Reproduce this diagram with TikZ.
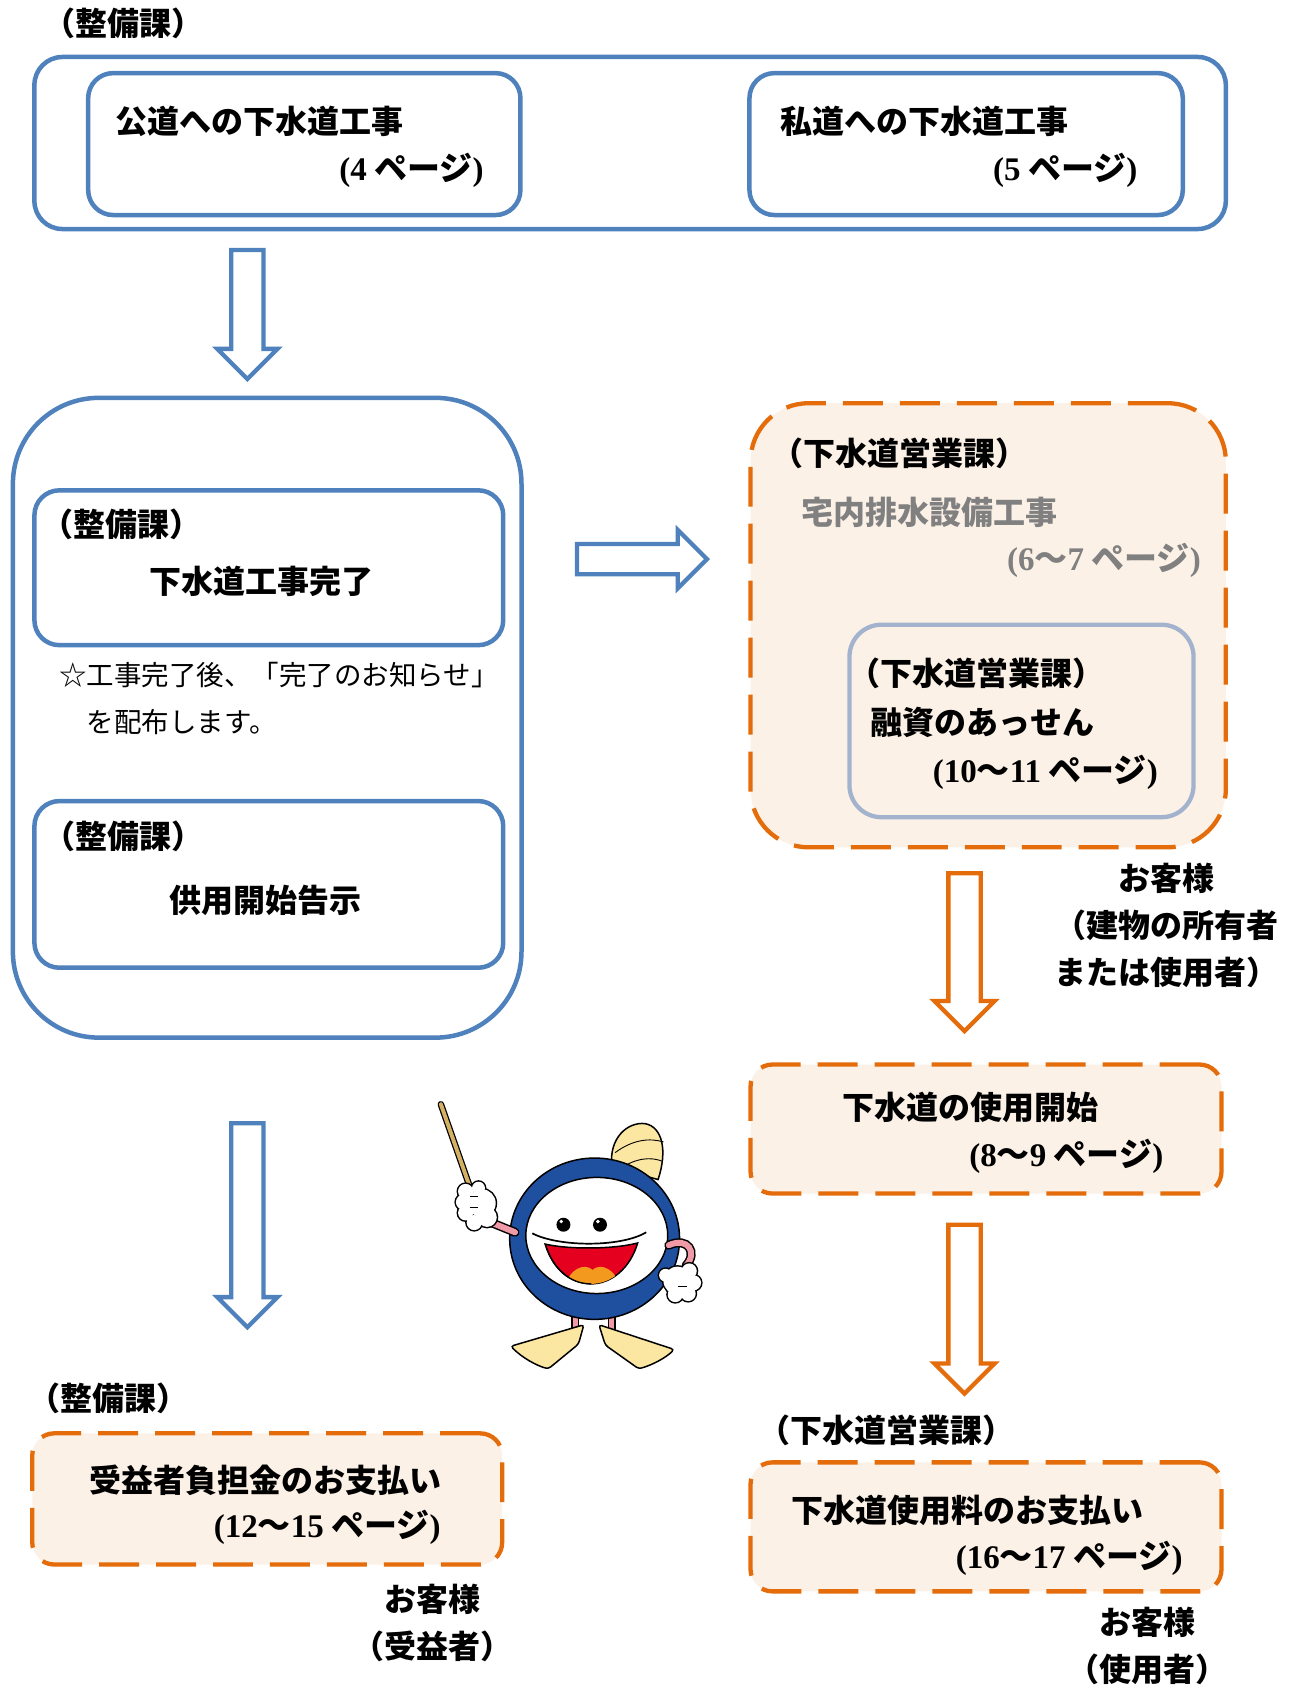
\documentclass[tikz,border=0pt]{standalone}
\usepackage{fontspec}
\setmainfont{Noto Sans CJK JP}
\newfontfamily\numfont{Liberation Serif}
\usetikzlibrary{shapes.arrows,fit}

\definecolor{boxblue}{HTML}{4F81BD}
\definecolor{boxorange}{HTML}{E46C0A}
\definecolor{peach}{HTML}{FCF1E7}
\definecolor{loanframe}{HTML}{A3B3CE}
\definecolor{ringblue}{HTML}{1F50A0}
\definecolor{mouthred}{HTML}{E60020}
\definecolor{lipsorange}{HTML}{F39A1E}
\definecolor{finyellow}{HTML}{FBE7A1}
\definecolor{armpink}{HTML}{F09AA8}
\definecolor{stickbrown}{HTML}{D4B062}

% page references: serif digits and parens
\newcommand\pga[1]{{\numfont\bfseries(#1} ページ{\numfont\bfseries)}}
\newcommand\pgb[2]{{\numfont\bfseries(#1}〜{\numfont\bfseries #2} ページ{\numfont\bfseries)}}

\begin{document}
\begin{tikzpicture}[x=1.0755pt,y=-1.0755pt,
  bluebox/.style={draw=boxblue,line width=4.5pt,rounded corners=25pt,inner sep=0pt},
  dashbox/.style={draw=boxorange,fill=peach,line width=4.3pt,dash pattern=on 40pt off 17pt,rounded corners=22pt,inner sep=0pt},
  boxtitle/.style={font=\bfseries\fontsize{32}{38}\selectfont,inner sep=0pt},
  deptlabel/.style={font=\bfseries\fontsize{32}{38}\selectfont,inner sep=0pt,anchor=west},
  pagelabel/.style={font=\bfseries\fontsize{33}{39}\selectfont,inner sep=0pt,anchor=east},
  notetext/.style={font=\fontsize{27.5}{47}\selectfont,inner sep=0pt,anchor=west,align=left},
  clientnote/.style={font=\bfseries\fontsize{32}{47}\selectfont,inner sep=0pt,align=center},
  blockarrow/.style={single arrow,draw,fill=white,line width=4.3pt,inner xsep=0pt,inner ysep=14pt,single arrow head extend=14pt,minimum height=#1},
  ink/.style={draw=black,line width=1.5pt}]
\useasboundingbox[fill=white] (0,0) rectangle (1206,1568);

% sewer works, top row
\node[deptlabel] (deptA) at (40,22) {（整備課）};
\node[bluebox,rounded corners=28pt,fit={(32,53) (1140,213)}] (works) {};
\node[bluebox,fit={(82,68) (484,200)}] (pub) {};
\node[bluebox,fit={(697,68) (1100,200)}] (priv) {};
\node[boxtitle,anchor=west] (pubT) at (107,113) {公道への下水道工事};
\node[pagelabel] (pubP) at (450,158) {\pga{4}};
\node[boxtitle,anchor=west] (privT) at (726,113) {私道への下水道工事};
\node[pagelabel] (privP) at (1058,158) {\pga{5}};

\node[blockarrow=129pt,draw=boxblue,rotate=-90] (down1) at (230,285) {};

% completion column
\node[bluebox,rounded corners=86pt,fit={(12,370) (485,965)}] (leftcol) {};
\node[bluebox,fit={(32,456) (468,600)}] (done) {};
\node[deptlabel] (deptB) at (38,488) {（整備課）};
\node[boxtitle] (doneT) at (243,541) {下水道工事完了};
\node[notetext] (notice) at (55,650) {☆工事完了後、「完了のお知らせ」\\\hspace*{1em}を配布します。};
\node[bluebox,fit={(32,745) (468,900)}] (publish) {};
\node[deptlabel] (deptC) at (40,778) {（整備課）};
\node[boxtitle] (publishT) at (247,837) {供用開始告示};

\node[blockarrow=130pt,draw=boxblue,inner ysep=13pt] (toright) at (590,520) {};

% house drainage
\node[dashbox,rounded corners=58pt,fit={(698,375) (1140,788)}] (house) {};
\node[deptlabel] (deptD) at (717,422) {（下水道営業課）};
\node[boxtitle,anchor=west,text=black!50] (houseT) at (745,477) {宅内排水設備工事};
\node[pagelabel,text=black!50] (houseP) at (1117,521) {\pgb{6}{7}};
\node[draw=loanframe,fill=peach,line width=4.3pt,rounded corners=32pt,inner sep=0pt,fit={(790,581) (1110,760)}] (loan) {};
\node[deptlabel] (deptE) at (789,626) {（下水道営業課）};
\node[boxtitle,anchor=west] (loanT) at (809,672) {融資のあっせん};
\node[pagelabel] (loanP) at (1077,718) {\pgb{10}{11}};
\node[clientnote] (ownerA) at (1085,861) {お客様\\（建物の所有者\\または使用者）};

\node[blockarrow=158pt,draw=boxorange,rotate=-90] (down2) at (897,878) {};

\node[dashbox,fit={(698,990) (1136,1110)}] (start) {};
\node[boxtitle,anchor=west] (startT) at (783,1030) {下水道の使用開始};
\node[pagelabel] (startP) at (1082,1075) {\pgb{8}{9}};

\node[blockarrow=169pt,draw=boxorange,rotate=-90] (down3) at (897,1210) {};

\node[deptlabel] (deptF) at (705,1330) {（下水道営業課）};
\node[dashbox,fit={(698,1360) (1136,1480)}] (fee) {};
\node[boxtitle,anchor=west] (feeT) at (736,1405) {下水道使用料のお支払い};
\node[pagelabel] (feeP) at (1100,1449) {\pgb{16}{17}};
\node[clientnote] (ownerB) at (1067,1531) {お客様\\（使用者）};

\node[blockarrow=204pt,draw=boxblue,rotate=-90] (down4) at (230,1132) {};

\node[deptlabel] (deptG) at (26,1300) {（整備課）};
\node[dashbox,fit={(30,1333) (467,1455)}] (charge) {};
\node[boxtitle,anchor=west] (chargeT) at (83,1377) {受益者負担金のお支払い};
\node[pagelabel] (chargeP) at (410,1420) {\pgb{12}{15}};
\node[clientnote] (ownerC) at (402,1509) {お客様\\（受益者）};

% mascot
\draw[ink,fill=finyellow] (569,1085) .. controls (566,1058) and (584,1043) .. (600,1045)
  .. controls (616,1048) and (621,1070) .. (612,1097) -- cycle;
\draw[line width=0.9pt] (572,1072) .. controls (588,1060) and (604,1058) .. (617,1062);
\draw[line width=0.9pt] (575,1088) .. controls (592,1076) and (606,1076) .. (616,1080);
\foreach \lx in {535,569} {
  \draw[line width=8pt] (\lx,1220) -- (\lx,1242);
  \draw[line width=5pt,armpink] (\lx,1220) -- (\lx,1242);
}
\draw[ink,fill=finyellow,rounded corners=3pt] (543,1232) -- (475,1252) .. controls (486,1263) and (499,1270) .. (510,1273) -- (538,1250) -- cycle;
\draw[ink,fill=finyellow,rounded corners=3pt] (557,1232) -- (563,1251) -- (594,1273) .. controls (608,1269) and (620,1262) .. (627,1255) -- cycle;
\draw[ink,fill=ringblue] (553,1152) ellipse [x radius=79,y radius=75];
\draw[ink,fill=white] (555,1149) ellipse [x radius=66,y radius=54];
\fill (524,1139) circle [radius=6.5]; \fill (558,1139) circle [radius=6.5];
\fill[white] (522,1136) circle [radius=1.8]; \fill[white] (556,1136) circle [radius=1.8];
\draw[ink,fill=mouthred] (507,1157) .. controls (528,1162) and (570,1162) .. (593,1156)
  .. controls (586,1180) and (568,1194) .. (550,1194) .. controls (530,1194) and (514,1180) .. (507,1157) -- cycle;
\begin{scope}
  \clip (507,1157) .. controls (528,1162) and (570,1162) .. (593,1156)
    .. controls (586,1180) and (568,1194) .. (550,1194) .. controls (530,1194) and (514,1180) .. (507,1157) -- cycle;
  \fill[lipsorange] (526,1198) .. controls (528,1180) and (544,1174) .. (551,1181)
    .. controls (558,1174) and (574,1180) .. (576,1198) -- cycle;
\end{scope}
\draw[ink,line width=1.2pt] (550,1194) .. controls (530,1194) and (514,1180) .. (507,1157);
\draw[line width=1.7pt] (495,1147) .. controls (520,1160) and (578,1160) .. (601,1146);
% arms
\draw[line width=9pt,line cap=round] (452,1135) -- (479,1146);
\draw[line width=6pt,armpink,line cap=round] (452,1135) -- (479,1146);
\draw[line width=9pt,line cap=round] (622,1158) .. controls (640,1150) and (649,1165) .. (638,1177);
\draw[line width=6pt,armpink,line cap=round] (622,1158) .. controls (640,1150) and (649,1165) .. (638,1177);
% pointer and gloves
\draw[line width=6.5pt,line cap=round] (410,1027) -- (437,1104);
\draw[line width=4pt,stickbrown,line cap=round] (410,1027) -- (437,1104);
\foreach \cx/\cy/\r in {433/1108/7,431/1118/7,433/1128/7,441/1137/7,448/1119/13,453/1132/9,445/1105/6,
                        630/1191/13,641/1182/7,645/1193/7,640/1203/7,628/1204/7,619/1186/6} {
  \draw[line width=3pt] (\cx,\cy) circle [radius=\r];
}
\foreach \cx/\cy/\r in {433/1108/7,431/1118/7,433/1128/7,441/1137/7,448/1119/13,453/1132/9,445/1105/6,
                        630/1191/13,641/1182/7,645/1193/7,640/1203/7,628/1204/7,619/1186/6} {
  \fill[white] (\cx,\cy) circle [radius=\r];
}
\draw[line width=0.8pt] (437,1113) -- (445,1113) (437,1123) -- (445,1123) (631,1196) -- (639,1196);
\end{tikzpicture}
\end{document}
